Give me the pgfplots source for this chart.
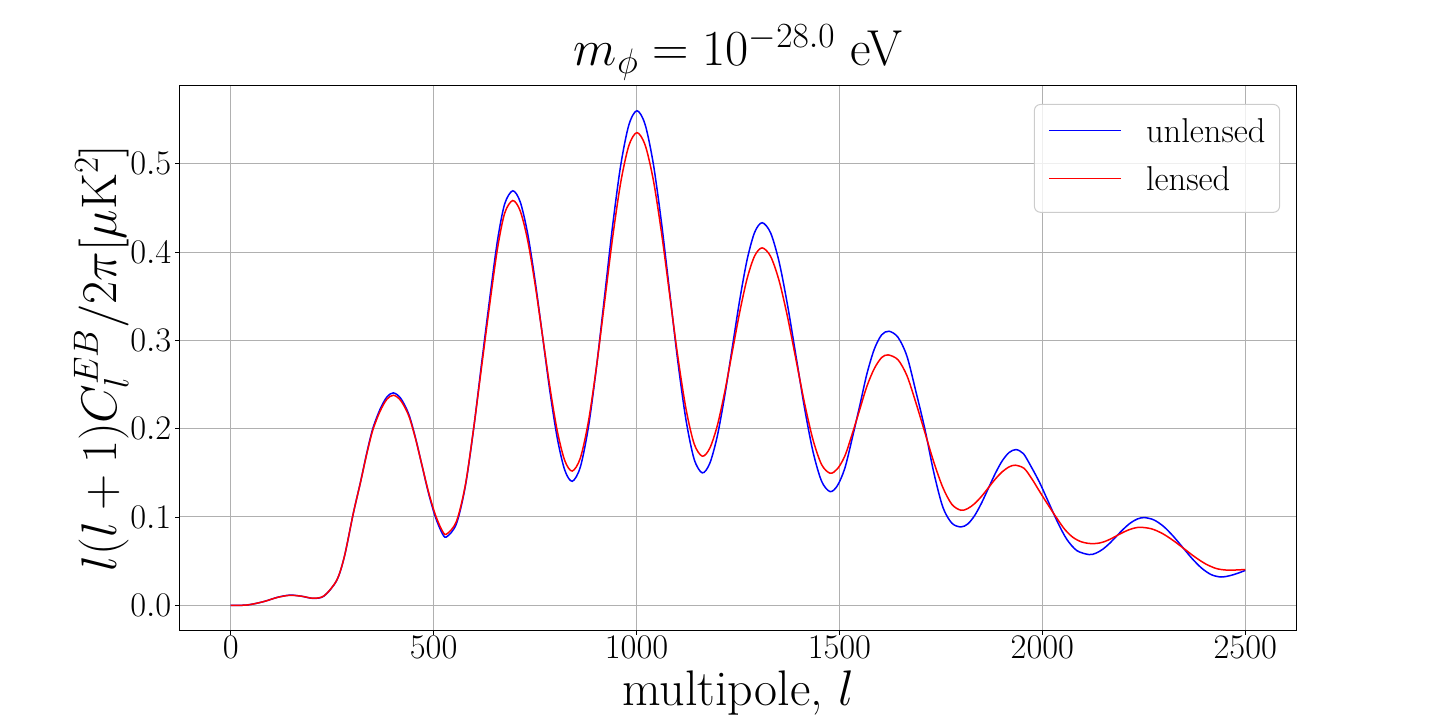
\RequirePackage{fix-cm}
\documentclass[border=0pt]{standalone}
\usepackage{pgfplots}
\pgfplotsset{compat=1.18}
\usepackage{pgfplotstable}

\pgfplotstableread{
l v
0 0.0000
40 0.0003
80 0.0040
115 0.0090
146 0.0115
175 0.0102
203 0.0078
230 0.0105
261 0.0280
280 0.0550
302 0.1040
320 0.1400
335 0.1720
350 0.2000
368 0.2220
385 0.2360
401 0.2405
419 0.2343
438.5 0.2166
455 0.1901
471 0.1589
487 0.1276
503.5 0.1011
519 0.0834
531 0.0772
556 0.0921
578 0.1346
598.6 0.2000
618 0.2732
637 0.3430
657 0.4121
675 0.4544
695 0.4693
713.3 0.4568
731.6 0.4211
749.9 0.3678
768.3 0.3049
786.6 0.2419
804.9 0.1886
823.2 0.1529
841.5 0.1404
861.4 0.1564
881.4 0.2018
901.3 0.2699
921.3 0.3502
941.2 0.4305
961.1 0.4986
981.1 0.5440
1001 0.5600
1021.1 0.5444
1041.3 0.4999
1061.4 0.4334
1081.5 0.3550
1101.6 0.2765
1121.8 0.2099
1141.9 0.1655
1162 0.1499
1180.4 0.1607
1198.9 0.1914
1217.3 0.2374
1235.8 0.2916
1254.2 0.3457
1272.6 0.3917
1291.1 0.4224
1309.5 0.4332
1330.4 0.4216
1351.4 0.3886
1372.3 0.3392
1393.3 0.2810
1414.2 0.2227
1435.1 0.1733
1456.1 0.1403
1477 0.1287
1495.1 0.1356
1513.3 0.1553
1531.4 0.1890
1549.5 0.2250
1567.6 0.2620
1585.8 0.2900
1603.9 0.3062
1622 0.3103
1644.1 0.3035
1666.3 0.2820
1688.4 0.2419
1710.5 0.1995
1732.6 0.1500
1754.8 0.1110
1776.9 0.0930
1799 0.0887
1816 0.0920
1833 0.1015
1850 0.1157
1867 0.1325
1884 0.1493
1901 0.1635
1918 0.1730
1935 0.1763
1953 0.1718
1970 0.1589
1992.5 0.1396
2015 0.1169
2037.5 0.0941
2060 0.0748
2085 0.0619
2115 0.0574
2132 0.0590
2149 0.0635
2166 0.0703
2183 0.0784
2200 0.0864
2217 0.0932
2234 0.0977
2251 0.0993
2274.6 0.0967
2298.3 0.0894
2321.9 0.0785
2345.5 0.0657
2369.1 0.0528
2392.8 0.0419
2416.4 0.0346
2440 0.0320
2460 0.0333
2480 0.0360
2500 0.0395
}\unlensed

\pgfplotstableread{
l v
0 0.0000
40 0.0003
80 0.0040
115 0.0089
146 0.0113
175 0.0102
203 0.0080
230 0.0107
261 0.0282
280 0.0551
302 0.1040
320 0.1396
335 0.1709
350 0.1982
368 0.2197
385 0.2334
401 0.2378
419 0.2318
438.5 0.2148
455 0.1892
471 0.1591
487 0.1290
503.5 0.1034
519 0.0864
531 0.0804
556 0.0948
578 0.1357
598.6 0.2005
618 0.2694
637 0.3366
657 0.4030
675 0.4439
695 0.4583
713.3 0.4466
731.6 0.4135
749.9 0.3637
768.3 0.3052
786.6 0.2466
804.9 0.1969
823.2 0.1637
841.5 0.1520
861.4 0.1666
881.4 0.2081
901.3 0.2703
921.3 0.3436
941.2 0.4169
961.1 0.4791
981.1 0.5206
1001 0.5352
1021.1 0.5212
1041.3 0.4816
1061.4 0.4221
1081.5 0.3520
1101.6 0.2819
1121.8 0.2225
1141.9 0.1828
1162 0.1688
1180.4 0.1778
1198.9 0.2033
1217.3 0.2416
1235.8 0.2868
1254.2 0.3319
1272.6 0.3702
1291.1 0.3957
1309.5 0.4047
1330.4 0.3950
1351.4 0.3673
1372.3 0.3259
1393.3 0.2771
1414.2 0.2283
1435.1 0.1869
1456.1 0.1592
1477 0.1495
1495.1 0.1546
1513.3 0.1691
1531.4 0.1940
1549.5 0.2210
1567.6 0.2480
1585.8 0.2680
1603.9 0.2805
1620 0.2835
1644.1 0.2780
1666.3 0.2600
1688.4 0.2292
1710.5 0.1956
1732.6 0.1619
1754.8 0.1333
1776.9 0.1143
1799 0.1076
1816 0.1095
1833 0.1151
1850 0.1233
1867 0.1331
1884 0.1429
1901 0.1511
1918 0.1567
1933 0.1586
1955 0.1550
1975 0.1425
1995 0.1275
2015 0.1130
2035 0.0990
2055 0.0860
2075 0.0770
2095 0.0720
2112 0.0702
2126 0.0698
2140.6 0.0705
2155.3 0.0725
2169.9 0.0755
2184.5 0.0791
2199.1 0.0826
2213.8 0.0856
2228.4 0.0876
2243 0.0883
2269.5 0.0865
2296 0.0812
2322.5 0.0733
2349 0.0641
2375.5 0.0548
2402 0.0469
2428.5 0.0416
2455 0.0398
2480 0.0400
2500 0.0405
}\lensed

\begin{document}
\begin{tikzpicture}
\path[use as bounding box] (-180pt,-90pt) rectangle (1260pt,630pt);
\begin{axis}[
  at={(0pt,0pt)}, anchor=south west,
  scale only axis, width=1116pt, height=544pt,
  xmin=-125, xmax=2625, ymin=-0.028, ymax=0.588,
  xtick={0,500,1000,1500,2000,2500},
  ytick={0,0.1,0.2,0.3,0.4,0.5},
  scaled ticks=false,
  tick label style={font=\fontsize{34.5}{41}\selectfont, inner sep=0pt},
  xticklabel style={/pgf/number format/1000 sep={}, anchor=north, yshift=-2pt},
  yticklabel style={/pgf/number format/fixed, /pgf/number format/fixed zerofill, /pgf/number format/precision=1, anchor=east, xshift=-4pt},
  tick align=outside, major tick length=4.5pt,
  tick style={black, line width=0.8pt},
  xtick pos=bottom, ytick pos=left,
  axis line style={black, line width=1pt},
  grid=major,
  major grid style={color={rgb,255:red,176;green,176;blue,176}, line width=1pt},
  title={$m_{\phi} = 10^{-28.0}$ eV},
  title style={at={(axis description cs:0.5,1.026)}, anchor=base, inner sep=0pt, font=\fontsize{50.5}{60}\selectfont},
  xlabel={multipole, $l$},
  xlabel style={at={(axis description cs:0.5,-0.1379)}, anchor=base, inner sep=0pt, font=\fontsize{50}{60}\selectfont},
  ylabel={$l(l+1)C_l^{EB}/2\pi[\mu\mathrm{K}^2]$},
  ylabel style={at={(axis description cs:-0.0573,0.5)}, anchor=base, inner sep=0pt, font=\fontsize{50}{60}\selectfont},
  legend cell align=left,
  legend image code/.code={\draw[#1] (0pt,4pt) -- (72pt,4pt);},
  legend image post style={line width=1.6pt},
  legend style={at={(axis description cs:0.9857,0.9669)}, anchor=north east,
    draw={rgb,255:red,204;green,204;blue,204}, line width=1pt, fill=white, fill opacity=0.8,
    draw opacity=1, text opacity=1, rounded corners=6pt,
    font=\fontsize{34.5}{41}\selectfont,
    inner xsep=14pt, inner ysep=13.7pt, row sep=15.5pt, column sep=24pt,
    nodes={inner sep=0pt, text depth=8.5pt}},
]
\addplot[blue, line width=1.5pt, smooth, forget plot] table[x=l, y=v] {\unlensed};
\addplot[red, line width=1.5pt, smooth, forget plot] table[x=l, y=v] {\lensed};
\addlegendimage{blue}
\addlegendentry{unlensed}
\addlegendimage{red}
\addlegendentry{lensed}
\end{axis}
\end{tikzpicture}
\end{document}
